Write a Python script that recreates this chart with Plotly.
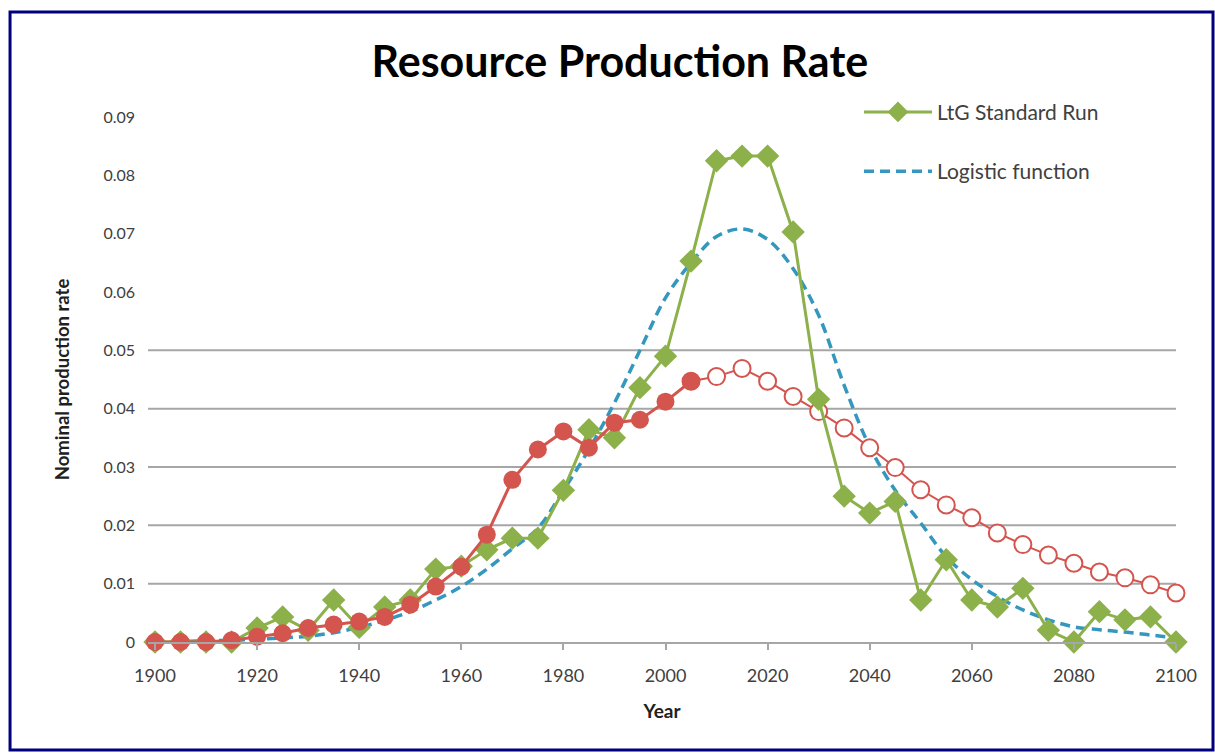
import plotly.graph_objects as go

# ---------------- data ----------------
years = list(range(1900, 2101, 5))

ltg_standard_run = [
    0.0, 0.0, 0.0, 0.0, 0.0024, 0.0043, 0.0020, 0.0072, 0.0025, 0.0060,
    0.0072, 0.0125, 0.0130, 0.0158, 0.0178, 0.0178, 0.0260, 0.0364, 0.0350, 0.0436,
    0.0490, 0.0653, 0.0825, 0.0833, 0.0833, 0.0703, 0.0416, 0.0250, 0.0221, 0.0241,
    0.0072, 0.0141, 0.0072, 0.0060, 0.0092, 0.0020, 0.0, 0.0052, 0.0038, 0.0043,
    0.0,
]

logistic_function = [
    0.0001, 0.0001, 0.0002, 0.0003, 0.0005, 0.0007, 0.0010, 0.0016, 0.0025, 0.0037,
    0.0052, 0.0072, 0.0095, 0.0125, 0.0160, 0.0195, 0.0260, 0.0330, 0.0410, 0.0500,
    0.0590, 0.0650, 0.0695, 0.0708, 0.0690, 0.0640, 0.0560, 0.0440, 0.0335, 0.0260,
    0.0204, 0.0146, 0.0107, 0.0078, 0.0055, 0.0038, 0.0026, 0.0021, 0.0017, 0.0012,
    0.0007,
]

# red series: filled markers 1900-2005, hollow markers 2005-2100
red_years_filled = list(range(1900, 2006, 5))
red_filled = [
    0.0, 0.0, 0.0, 0.0003, 0.0009, 0.0015, 0.0024, 0.0030, 0.0035, 0.0043,
    0.0064, 0.0095, 0.0129, 0.0184, 0.0278, 0.0330, 0.0361, 0.0333, 0.0376, 0.0381,
    0.0412, 0.0447,
]
red_years_hollow = list(range(2005, 2101, 5))
red_hollow = [
    0.0447, 0.0455, 0.0469, 0.0447, 0.0421, 0.0395, 0.0367, 0.0333, 0.0299, 0.0261,
    0.0235, 0.0213, 0.0187, 0.0167, 0.0149, 0.0135, 0.0120, 0.0110, 0.0098, 0.0084,
]

y_tick_vals = [0, 0.01, 0.02, 0.03, 0.04, 0.05, 0.06, 0.07, 0.08, 0.09]
y_tick_text = ["0", "0.01", "0.02", "0.03", "0.04", "0.05", "0.06", "0.07", "0.08", "0.09"]
x_tick_vals = [1900, 1920, 1940, 1960, 1980, 2000, 2020, 2040, 2060, 2080, 2100]
grid_values = [0.01, 0.02, 0.03, 0.04, 0.05]

# ---------------- style ----------------
GREEN = "#8cb04a"
BLUE = "#3497bd"
RED = "#d4544e"
GRID = "#a6a6a6"
TEXT = "#404040"
FONT = "Lato"

fig = go.Figure()

fig.add_trace(go.Scatter(
    x=years, y=logistic_function, name="Logistic function",
    mode="lines", line=dict(color=BLUE, width=3.5, dash="10px,6px", shape="spline"),
    legendgroup="b", legendrank=2, cliponaxis=False,
))

fig.add_trace(go.Scatter(
    x=red_years_hollow, y=red_hollow, name="hollow", showlegend=False,
    mode="lines+markers", line=dict(color=RED, width=2),
    marker=dict(symbol="circle", size=17, color="white", line=dict(color=RED, width=2)),
    cliponaxis=False,
))

fig.add_trace(go.Scatter(
    x=years, y=ltg_standard_run, name="LtG Standard Run",
    mode="lines+markers", line=dict(color=GREEN, width=3),
    marker=dict(symbol="diamond", size=18, color=GREEN),
    legendgroup="a", legendrank=1, cliponaxis=False,
))

fig.add_trace(go.Scatter(
    x=red_years_filled, y=red_filled, name="filled", showlegend=False,
    mode="lines+markers", line=dict(color=RED, width=3),
    marker=dict(symbol="circle", size=18, color=RED),
    cliponaxis=False,
))

shapes = []
for g in grid_values:
    shapes.append(dict(type="line", xref="paper", yref="y", x0=0, x1=1, y0=g, y1=g,
                       line=dict(color=GRID, width=2), layer="below"))
shapes.append(dict(type="rect", xref="paper", yref="paper",
                   x0=-0.1342, x1=1.036, y0=-0.2057, y1=1.2,
                   line=dict(color="#00007f", width=3)))

fig.update_layout(
    width=1215, height=756,
    margin=dict(l=148, r=39, t=117, b=114),
    paper_bgcolor="white", plot_bgcolor="white",
    font=dict(family=FONT, color=TEXT, size=16),
    title=dict(text="<b>Resource Production Rate</b>", x=0.459, xref="paper",
               xanchor="center", y=0.918, yref="container", yanchor="middle",
               font=dict(family=FONT, size=43, color="black")),
    shapes=shapes,
    showlegend=True,
    legend=dict(x=0.6916, y=1.048, xanchor="left", yanchor="top",
                bgcolor="rgba(0,0,0,0)", font=dict(family=FONT, size=21, color=TEXT),
                traceorder="grouped", tracegroupgap=29, itemwidth=68),
    xaxis=dict(range=[1898.63, 2100], tickvals=x_tick_vals, showgrid=False,
               zeroline=False, showline=True, linecolor=GRID, linewidth=2,
               ticks="outside", ticklen=6, tickcolor=GRID, tickwidth=1.5,
               ticklabelstandoff=10, tickfont=dict(size=18, color=TEXT),
               title=dict(text="<b>Year</b>", standoff=20,
                          font=dict(size=19, color="#202020"))),
    yaxis=dict(range=[0, 0.09], tickvals=y_tick_vals, ticktext=y_tick_text,
               showgrid=False, zeroline=False, showline=False, ticks="",
               ticklabelstandoff=12, tickfont=dict(size=16, color=TEXT),
               title=dict(text="<b>Nominal production rate</b>", standoff=28,
                          font=dict(size=18.5, color="#202020"))),
)

fig.write_html("out.html", config={"displayModeBar": False},
               post_script="document.body.style.margin='0';")
